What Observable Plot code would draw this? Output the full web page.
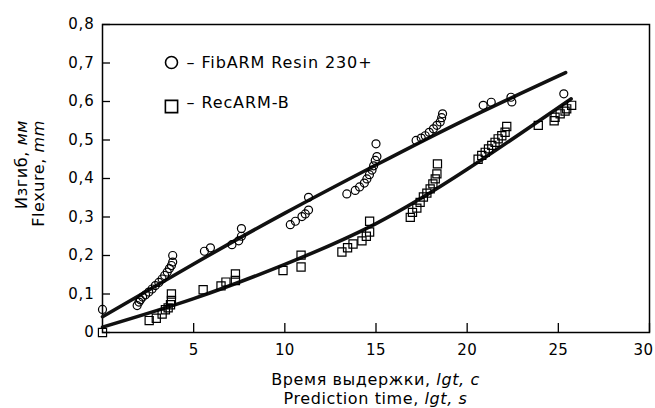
<!DOCTYPE html>
<html>
<head>
<meta charset="utf-8">
<script src="https://cdn.jsdelivr.net/npm/d3@7"></script>
<script src="https://cdn.jsdelivr.net/npm/@observablehq/plot@0.6"></script>
<style>
  html, body { margin: 0; padding: 0; background: #fff; }
  #chart svg { font-family: "DejaVu Sans", sans-serif; }
</style>
</head>
<body>
<div id="chart"></div>
<script>
// ---- data ----
const seriesNames = ["FibARM Resin 230+", "RecARM-B"];

const fibX = [0, 1.9, 2.0, 2.08, 2.2, 2.36, 2.54, 2.72, 2.9, 3.09, 3.27, 3.41, 3.55, 3.67, 3.78, 3.85, 3.85,
              5.59, 5.92, 7.1, 7.47, 7.62, 7.62,
              10.3, 10.58, 10.94, 11.12, 11.3, 11.3,
              13.4, 13.86, 14.1, 14.36, 14.5, 14.64, 14.78, 14.87, 14.96, 15.05, 15.0,
              17.2, 17.48, 17.7, 17.92, 18.15, 18.34, 18.52, 18.6, 18.65,
              20.88, 21.32, 22.4, 22.45, 25.3];
const fibY = [0.06, 0.07, 0.079, 0.085, 0.092, 0.098, 0.105, 0.113, 0.122, 0.13, 0.139, 0.148, 0.157, 0.166, 0.174, 0.183, 0.2,
              0.211, 0.22, 0.228, 0.238, 0.25, 0.27,
              0.28, 0.289, 0.301, 0.308, 0.318, 0.351,
              0.36, 0.369, 0.378, 0.388, 0.399, 0.41, 0.422, 0.433, 0.447, 0.457, 0.49,
              0.499, 0.505, 0.511, 0.52, 0.529, 0.538, 0.547, 0.558, 0.568,
              0.59, 0.598, 0.611, 0.599, 0.62];

const recX = [0, 2.56, 2.95, 3.27, 3.45, 3.6, 3.73, 3.78, 3.78,
              5.52, 6.5, 6.77, 7.29, 7.29,
              9.9, 10.89, 10.89,
              13.13, 13.44, 13.74, 14.23, 14.47, 14.65, 14.65,
              16.88, 17.0, 17.24, 17.42, 17.6, 17.79, 17.97, 18.12, 18.25, 18.34, 18.37,
              20.6, 20.8, 20.99, 21.17, 21.35, 21.53, 21.7, 21.9, 22.08, 22.17,
              23.9, 24.77, 24.82, 25.1, 25.37, 25.46, 25.73];
const recY = [0, 0.031, 0.037, 0.048, 0.059, 0.064, 0.072, 0.083, 0.1,
              0.111, 0.121, 0.131, 0.135, 0.152,
              0.161, 0.17, 0.201,
              0.209, 0.22, 0.23, 0.238, 0.25, 0.261, 0.289,
              0.299, 0.312, 0.323, 0.338, 0.352, 0.362, 0.373, 0.386, 0.399, 0.412, 0.438,
              0.45, 0.46, 0.468, 0.477, 0.486, 0.494, 0.503, 0.511, 0.52, 0.535,
              0.538, 0.55, 0.559, 0.568, 0.575, 0.581, 0.59];

// fitted trend curves
const fibFitX = [0, 5, 10, 15, 20, 25.4];
const fibFitY = [0.041, 0.178, 0.31, 0.435, 0.555, 0.675];
const recFitX = [0, 5, 10, 15, 20, 25.7];
const recFitY = [0.014, 0.088, 0.177, 0.283, 0.424, 0.607];

const xTicks = [5, 10, 15, 20, 25, 30];
const xTickLabels = ["5", "10", "15", "20", "25", "30"];
const yTicks = [0, 0.1, 0.2, 0.3, 0.4, 0.5, 0.6, 0.7, 0.8];
const yTickLabels = ["0", "0,1", "0,2", "0,3", "0,4", "0,5", "0,6", "0,7", "0,8"];

const yTitleLines = [[["Изгиб, ", false], ["мм", true]], [["Flexure, ", false], ["mm", true]]];
const xTitleLines = [[["Время выдержки, ", false], ["lgt, c", true]], [["Prediction time, ", false], ["lgt, s", true]]];

// ---- build tables ----
const fibPts = fibX.map((x, i) => ({x, y: fibY[i]}));
const recPts = recX.map((x, i) => ({x, y: recY[i]}));
const fibFit = fibFitX.map((x, i) => ({x, y: fibFitY[i]}));
const recFit = recFitX.map((x, i) => ({x, y: recFitY[i]}));

const chart = Plot.plot({
  width: 655,
  height: 408,
  marginLeft: 102,
  marginRight: 6,
  marginTop: 24,
  marginBottom: 76,
  x: {domain: [0, 30]},
  y: {domain: [0, 0.8]},
  style: {fontFamily: "'DejaVu Sans', sans-serif", fontSize: "15px", color: "#000", background: "#fff"},
  marks: [
    Plot.frame({stroke: "#000", strokeWidth: 1.5}),
    // inward ticks
    Plot.axisY(yTicks, {tickSize: 8, dx: 8, text: null, label: null, strokeWidth: 1.3}),
    Plot.axisX(xTicks, {tickSize: 9, dy: -9, text: null, label: null, strokeWidth: 1.3}),
    // labels
    Plot.axisY(yTicks, {tickSize: 0, tickPadding: 8, label: null, fontSize: 15,
      tickFormat: d => yTickLabels[yTicks.indexOf(d)]}),
    Plot.axisX(xTicks, {tickSize: 0, tickPadding: 12, label: null, fontSize: 15,
      tickFormat: d => xTickLabels[xTicks.indexOf(d)]}),
    // fitted curves
    Plot.line(fibFit, {x: "x", y: "y", curve: "natural", stroke: "#111", strokeWidth: 3.6}),
    Plot.line(recFit, {x: "x", y: "y", curve: "natural", stroke: "#111", strokeWidth: 3.6}),
    // data
    Plot.dot(fibPts, {x: "x", y: "y", symbol: "circle", r: 4, stroke: "#000", strokeWidth: 1.2, fill: "none"}),
    Plot.dot(recPts, {x: "x", y: "y", symbol: "square", r: 4.6, stroke: "#000", strokeWidth: 1.2, fill: "none"}),
    // legend
    Plot.dot([seriesNames[0]], {frameAnchor: "top-left", dx: 69, dy: 38, symbol: "circle", r: 6, stroke: "#000", strokeWidth: 1.6, fill: "none"}),
    Plot.dot([seriesNames[1]], {frameAnchor: "top-left", dx: 69, dy: 82, symbol: "square", r: 6.9, stroke: "#000", strokeWidth: 1.6, fill: "none"}),
    Plot.text([seriesNames[0]], {frameAnchor: "top-left", dx: 84, dy: 38, text: d => "– " + d, textAnchor: "start", lineAnchor: "middle", fontSize: 16}),
    Plot.text([seriesNames[1]], {frameAnchor: "top-left", dx: 84, dy: 78, text: d => "– " + d, textAnchor: "start", lineAnchor: "middle", fontSize: 16})
  ]
});

document.getElementById("chart").appendChild(chart);

const svg = d3.select(chart);
svg.selectAll("g[aria-label='y-axis tick label'] text").attr("letter-spacing", "0.8");
const xLab = svg.selectAll("g[aria-label='x-axis tick label'] text").attr("letter-spacing", "0.4");
// keep the last x label inside the picture edge
xLab.filter((d, i, n) => i === n.length - 1).attr("dx", -6);
svg.selectAll("g[aria-label='text'] text").attr("letter-spacing", "0.9");

function addTitle(x, y, rot, anchor, parts) {
  const t = svg.append("text")
    .attr("transform", `translate(${x},${y})` + (rot ? ` rotate(${rot})` : ""))
    .attr("text-anchor", anchor)
    .attr("font-size", 16)
    .attr("letter-spacing", "0.6")
    .attr("fill", "#000");
  parts.forEach(([s, it]) => t.append("tspan").text(s).attr("font-style", it ? "italic" : null));
}
addTitle(27, 120, -90, "end", yTitleLines[0]);
addTitle(44, 120, -90, "end", yTitleLines[1]);
addTitle(375.5, 385, 0, "middle", xTitleLines[0]);
addTitle(375.5, 404, 0, "middle", xTitleLines[1]);
</script>
</body>
</html>
